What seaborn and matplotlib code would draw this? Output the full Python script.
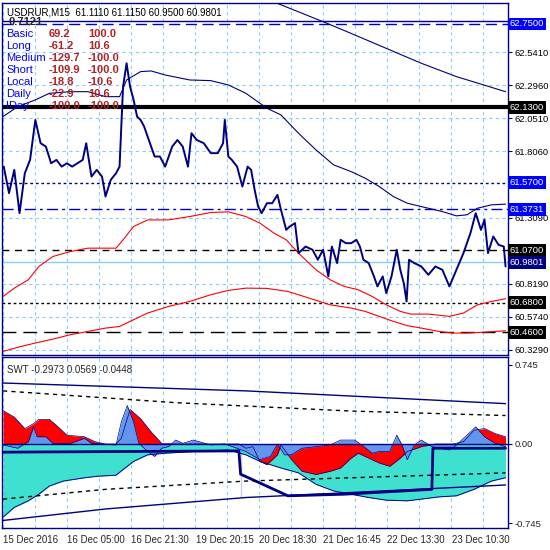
import matplotlib.pyplot as plt
import seaborn as sns
import numpy as np

# ---- data (time axis in chart units, price in RUB) ----
price_t = [10, 25, 40, 55, 70, 85, 100, 115, 130, 145, 160, 175, 190, 205, 220, 235, 245, 260, 275, 290,
           300, 315, 330, 340, 345, 350, 360, 370, 380, 390, 400, 410, 430, 440, 455, 470, 490, 505, 520, 535,
           545, 560, 580, 600, 620, 635, 640, 650, 660, 675, 690, 705, 715, 725, 735, 745, 760, 775, 790, 800,
           815, 825, 840, 850, 870, 890, 905, 920, 935, 945, 960, 970, 985, 1000, 1015, 1025, 1035, 1050, 1065, 1075,
           1090, 1100, 1115, 1130, 1140, 1150, 1158, 1165, 1180, 1200, 1220, 1240, 1260, 1280, 1300, 1320, 1340, 1355,
           1370, 1380, 1390, 1405, 1420, 1435, 1440]
price = [61.690, 61.493, 61.666, 61.344, 61.641, 61.740, 62.037, 61.864, 61.839, 61.715, 61.740, 61.690, 61.715,
         61.690, 61.715, 61.740, 61.864, 61.616, 61.666, 61.616, 61.468, 61.592, 61.641, 61.690, 61.988, 62.284,
         62.458, 62.284, 62.186, 62.062, 62.037, 61.988, 61.839, 61.765, 61.765, 61.690, 61.839, 61.888, 61.839,
         61.690, 61.938, 61.888, 61.864, 61.790, 61.790, 61.864, 62.037, 61.765, 61.740, 61.690, 61.542, 61.690,
         61.666, 61.517, 61.393, 61.344, 61.418, 61.418, 61.480, 61.369, 61.220, 61.245, 61.270, 61.047, 61.096,
         61.072, 60.998, 61.072, 60.874, 61.096, 60.973, 61.146, 61.121, 61.121, 61.146, 61.096, 60.998, 60.973,
         60.874, 60.800, 60.874, 60.750, 60.874, 61.072, 60.923, 60.824, 60.688, 60.998, 60.973, 60.948, 60.886,
         60.948, 60.923, 60.800, 60.923, 61.047, 61.196, 61.344, 61.220, 61.295, 61.047, 61.171, 61.109, 61.096,
         60.948]

ma1_t = [8, 50, 100, 140, 200, 250, 300, 340, 360, 400, 430, 470, 540, 600, 650, 700, 760, 800, 850, 900, 950,
         1000, 1040, 1080, 1120, 1160, 1200, 1260, 1300, 1330, 1360, 1400, 1440]
ma1 = [62.062, 62.136, 62.186, 62.235, 62.247, 62.247, 62.210, 62.210, 62.334, 62.396, 62.401, 62.371, 62.334,
       62.329, 62.297, 62.235, 62.124, 62.074, 61.938, 61.814, 61.703, 61.653, 61.604, 61.542, 61.468, 61.418,
       61.393, 61.356, 61.324, 61.332, 61.381, 61.406, 61.411]
ma2_t = [790, 920, 1000, 1100, 1200, 1300, 1440]
ma2 = [62.903, 62.767, 62.680, 62.569, 62.458, 62.359, 62.247]
env1_t = [8, 40, 80, 110, 150, 200, 250, 330, 350, 380, 420, 480, 540, 600, 650, 700, 740, 780, 815, 850, 900,
          940, 980, 1020, 1060, 1100, 1140, 1170, 1220, 1280, 1320, 1360, 1400, 1440]
env1 = [60.725, 60.787, 60.849, 60.948, 61.022, 61.059, 61.084, 61.084, 61.146, 61.245, 61.294, 61.294, 61.319,
        61.349, 61.354, 61.319, 61.270, 61.196, 61.146, 61.047, 60.923, 60.849, 60.800, 60.775, 60.725, 60.663,
        60.614, 60.594, 60.594, 60.577, 60.602, 60.663, 60.688, 60.708]
env2_t = [8, 60, 100, 150, 200, 250, 300, 340, 380, 420, 480, 540, 600, 650, 700, 760, 820, 880, 940, 1000, 1040,
          1080, 1120, 1160, 1200, 1250, 1290, 1330, 1380, 1440]
env2 = [60.317, 60.354, 60.379, 60.408, 60.441, 60.465, 60.490, 60.502, 60.552, 60.602, 60.651, 60.688, 60.738,
        60.770, 60.787, 60.785, 60.762, 60.713, 60.663, 60.639, 60.614, 60.577, 60.540, 60.508, 60.490, 60.465,
        60.453, 60.453, 60.460, 60.470]

# SWT oscillator
red_t = [8, 40, 70, 95, 110, 140, 160, 190, 240, 270, 300, 330, 345, 370, 400, 430, 460, 500, 680, 700, 720, 740,
         760, 790, 800, 830, 860, 900, 940, 970, 1000, 1020, 1050, 1080, 1110, 1140, 1160, 1200, 1240, 1290, 1320,
         1350, 1380, 1410, 1440]
red_v = [0.315, 0.253, 0.145, 0.192, 0.232, 0.232, 0.176, 0.083, 0.068, 0.022, 0, 0, 0.053, 0.325, 0.238, 0.114,
         0.006, 0, 0, -0.040, -0.025, -0.164, -0.195, -0.102, -0.009, -0.148, -0.257, -0.287, -0.257, -0.226,
         -0.133, -0.087, -0.133, -0.179, -0.210, -0.133, -0.071, -0.025, 0, 0, 0.022, 0.130, 0.145, 0.099, 0.068]
blue_t = [8, 50, 80, 95, 105, 130, 150, 200, 240, 260, 330, 345, 362, 380, 395, 420, 440, 460, 480, 500, 520, 550,
          600, 640, 700, 740, 770, 790, 810, 830, 860, 900, 940, 970, 1010, 1030, 1060, 1080, 1110, 1130, 1145, 1160,
          1180, 1200, 1230, 1280, 1300, 1330, 1355, 1380, 1410, 1440]
blue_v = [-0.009, -0.040, 0.022, 0.161, 0.068, 0.068, 0.006, 0.006, 0.053, 0.006, -0.009, 0.207, 0.362, 0.207,
          0.006, -0.071, -0.117, -0.040, -0.025, 0.037, 0.006, 0.037, -0.009, 0, -0.071, -0.148, -0.117, 0, -0.102,
          -0.102, -0.040, -0.025, -0.009, 0.037, 0.037, -0.009, -0.087, -0.071, -0.071, 0.083, -0.009, -0.148,
          -0.009, 0.037, -0.025, -0.056, -0.009, 0.083, 0.161, 0.068, 0.006, -0.025]
turq_t = [8, 40, 80, 110, 140, 180, 240, 280, 330, 350, 380, 420, 470, 550, 650, 700, 740, 800, 850, 900, 950, 1000,
          1050, 1100, 1160, 1200, 1250, 1300, 1350, 1400, 1440]
turq_v = [-0.689, -0.597, -0.535, -0.473, -0.396, -0.349, -0.318, -0.303, -0.294, -0.241, -0.164, -0.102, -0.087,
          -0.071, -0.056, -0.102, -0.164, -0.226, -0.272, -0.380, -0.442, -0.473, -0.504, -0.529, -0.535, -0.519,
          -0.498, -0.488, -0.427, -0.349, -0.318]
step_t = [8, 680, 685, 685, 820, 980, 1230, 1233, 1440]
step_v = [-0.077, -0.065, -0.071, -0.498, -0.488, -0.473, -0.427, -0.040, -0.040]
low_t = [8, 300, 700, 1000, 1440]
low_v = [-0.720, -0.612, -0.504, -0.457, -0.386]
high_t = [8, 700, 1440]
high_v = [0.574, 0.50, 0.38]
dash_hi_t = [8, 500, 1000, 1440]
dash_hi_v = [0.50, 0.389, 0.31, 0.268]
dash_lo_t = [8, 300, 700, 1000, 1440]
dash_lo_v = [-0.519, -0.427, -0.349, -0.318, -0.272]

date_ticks = [8, 190, 372, 557, 738, 921, 1103, 1286]
date_labels = ["15 Dec 2016", "16 Dec 05:00", "16 Dec 21:30", "19 Dec 20:15",
               "20 Dec 18:30", "21 Dec 16:45", "22 Dec 13:30", "23 Dec 10:30"]
price_ticks = [62.5410, 62.2960, 62.0510, 61.8060, 61.3090, 60.8190, 60.5740, 60.3290]
levels = [62.7500, 62.1300, 61.5700, 61.3731, 61.0700, 60.9801, 60.6800, 60.4600]
level_box = ["#0000ff", "black", "#0000ff", "#0000ff", "black", "#000080", "black", "black"]
table_names = ["Basic", "Long", "Medium", "Short", "Local", "Daily", "IDay"]
table_a = ["69.2", "-61.2", "-129.7", "-109.9", "-18.8", "-22.9", "-100.0"]
table_b = ["100.0", "10.6", "-100.0", "-100.0", "-10.6", "10.6", "-100.0"]

sns.set_style("white")
plt.rcParams['font.family'] = ['Liberation Sans', 'DejaVu Sans']
NAVY = "#000080"
GRID = "#87cefa"
W = 550
FS = 7.0
YFS = 6.8
TFS = 8.0
fig = plt.figure(figsize=(5.5, 5.5), dpi=100)
ax = fig.add_axes([2 / W, 1 - 355 / W, 506 / W, 352 / W])
ax2 = fig.add_axes([2 / W, 1 - 528 / W, 506 / W, 171 / W])
xlim = (5, 1447)
grid_x = np.arange(8, 1447, 91.1)

# main panel
ax.set_xlim(*xlim)
ax.set_ylim(60.29, 62.906)
for g in grid_x:
    ax.axvline(g, color=GRID, lw=0.8, ls=(0, (3, 3)), zorder=0)
for p in price_ticks:
    ax.axhline(p, color=GRID, lw=0.8, ls=(0, (3, 3)), zorder=0)
ax.axhline(62.775, color=NAVY, lw=1)
ax.axhline(62.75, color="#0000cd", lw=1, ls=(0, (8, 4)))
ax.axhline(62.13, color="black", lw=3)
ax.axhline(61.57, color=NAVY, lw=1, ls=(0, (2, 2)))
ax.axhline(61.3731, color="#0000cd", lw=1, ls=(0, (8, 3, 2, 3)))
ax.axhline(61.07, color="black", lw=1, ls=(0, (5, 4)))
ax.axhline(60.9801, color=GRID, lw=1)
ax.axhline(60.68, color="black", lw=1, ls=(0, (2, 2)))
ax.axhline(60.46, color="black", lw=1, ls=(0, (10, 5)))
sns.lineplot(x=ma1_t, y=ma1, ax=ax, color=NAVY, lw=0.8, sort=False)
sns.lineplot(x=ma2_t, y=ma2, ax=ax, color=NAVY, lw=0.8, sort=False)
sns.lineplot(x=env1_t, y=env1, ax=ax, color="red", lw=0.8, sort=False)
sns.lineplot(x=env2_t, y=env2, ax=ax, color="red", lw=0.8, sort=False)
sns.lineplot(x=price_t, y=price, ax=ax, color=NAVY, lw=1.4, sort=False)
ax.set_xticks([])
ax.yaxis.tick_right()
ax.set_yticks(price_ticks)
ax.set_yticklabels([f"{p:.4f}" for p in price_ticks], fontsize=YFS, color="black")
ax.tick_params(axis="y", length=3, pad=1.5, color=NAVY)
for lv, c in zip(levels, level_box):
    ax.text(1.003, lv, f"{lv:.4f}", transform=ax.get_yaxis_transform(), fontsize=YFS, color="white",
            va="center", ha="left", bbox=dict(boxstyle="square,pad=0.2", fc=c, ec="none"))
ax.text(0.01, 0.988, "USDRUR,M15  61.1110 61.1150 60.9500 60.9801", transform=ax.transAxes,
        fontsize=FS, va="top", color="black")
ax.text(0.012, 0.946, "0.7121", transform=ax.transAxes, fontsize=TFS, fontweight="bold", va="center")
for i, (n, a, b) in enumerate(zip(table_names, table_a, table_b)):
    yy = 0.912 - i * 0.0342
    ax.text(0.008, yy, n, transform=ax.transAxes, fontsize=TFS, color="#0000ff", va="center")
    ax.text(0.093, yy, a, transform=ax.transAxes, fontsize=TFS, color="#b22222", fontweight="bold", va="center")
    ax.text(0.170, yy, b, transform=ax.transAxes, fontsize=TFS, color="#b22222", fontweight="bold", va="center")

# SWT panel
ax2.set_xlim(*xlim)
ax2.set_ylim(-0.791, 0.819)
for g in grid_x:
    ax2.axvline(g, color=GRID, lw=0.8, ls=(0, (3, 3)), zorder=0)
ax2.fill_between(turq_t, turq_v, 0, color="#40e0d0", lw=0)
ax2.fill_between(red_t, red_v, 0, color="red", lw=0)
ax2.fill_between(blue_t, blue_v, 0, color="#6495ed", lw=0)
sns.lineplot(x=turq_t, y=turq_v, ax=ax2, color=NAVY, lw=0.7, sort=False)
sns.lineplot(x=red_t, y=red_v, ax=ax2, color=NAVY, lw=0.5, sort=False)
sns.lineplot(x=blue_t, y=blue_v, ax=ax2, color=NAVY, lw=0.5, sort=False)
ax2.axhline(0, color=NAVY, lw=1)
sns.lineplot(x=step_t, y=step_v, ax=ax2, color=NAVY, lw=2, sort=False)
sns.lineplot(x=low_t, y=low_v, ax=ax2, color=NAVY, lw=1, sort=False)
sns.lineplot(x=high_t, y=high_v, ax=ax2, color=NAVY, lw=1, sort=False)
sns.lineplot(x=dash_hi_t, y=dash_hi_v, ax=ax2, color="black", lw=1, ls=(0, (3, 3)), sort=False)
sns.lineplot(x=dash_lo_t, y=dash_lo_v, ax=ax2, color="black", lw=1, ls=(0, (3, 3)), sort=False)
ax2.yaxis.tick_right()
ax2.set_yticks([0.745, 0.0, -0.745])
ax2.set_yticklabels(["0.745", "0.00", "-0.745"], fontsize=YFS)
ax2.tick_params(axis="y", length=3, pad=1.5, color=NAVY)
ax2.set_xticks(date_ticks)
ax2.set_xticklabels(date_labels, fontsize=FS, ha="left")
ax2.tick_params(axis="x", length=3, pad=2, color=NAVY)
ax2.text(0.01, 0.955, "SWT -0.2973 0.0569 -0.0448", transform=ax2.transAxes, fontsize=FS, va="top")

for a in (ax, ax2):
    for s in a.spines.values():
        s.set_color(NAVY)
        s.set_linewidth(1)
    a.set_xlabel("")
    a.set_ylabel("")

fig.savefig("out.png", dpi=100)
